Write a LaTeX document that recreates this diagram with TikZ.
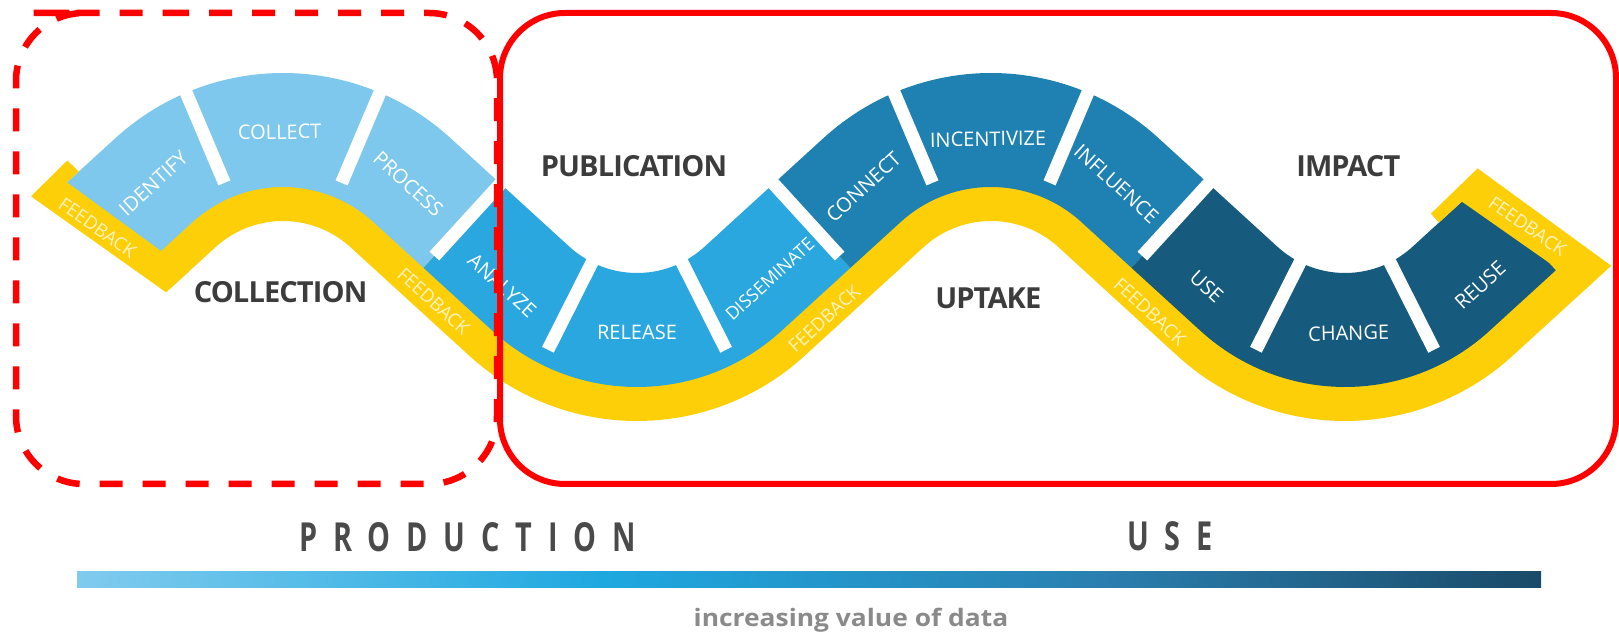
\documentclass[tikz,border=0pt]{standalone}
\usepackage{fontspec}
\setmainfont{Open Sans}
\newfontfamily\blkfont{Open Sans}
\newfontfamily\bigfont{Open Sans}[LetterSpace=-3]
\newfontfamily\prodfont{Open Sans}[LetterSpace=55]
\definecolor{cA}{HTML}{7DC8EC}
\definecolor{cB}{HTML}{2AA7DF}
\definecolor{cC}{HTML}{1F80B2}
\definecolor{cD}{HTML}{165A7D}
\definecolor{yel}{HTML}{FCCF08}
\definecolor{fbtext}{HTML}{FFF3C4}
\definecolor{darktext}{HTML}{3C3C3C}
\definecolor{prodgray}{HTML}{4A4A4A}
\definecolor{valgray}{HTML}{8A8A8A}
\definecolor{redline}{HTML}{FF0000}
\definecolor{barA}{HTML}{80CBEE}
\definecolor{barB}{HTML}{1EA8E0}
\definecolor{barC}{HTML}{2A7FB0}
\definecolor{barD}{HTML}{1A4A68}
\pgfdeclarehorizontalshading{valbar}{100bp}{color(0bp)=(barA); color(25bp)=(barA); color(43bp)=(barB); color(60bp)=(barC); color(75bp)=(barD); color(100bp)=(barD)}
% wave geometry (1 unit = 1 px, y up)
\def\R{174}
\def\HY{313}
\def\VY{461}
\def\Dx{354}
\def\Ha{283}
\pgfmathsetmacro\Vb{\Ha+\Dx}
\pgfmathsetmacro\Hc{\Ha+2*\Dx}
\pgfmathsetmacro\Vd{\Ha+3*\Dx}
\pgfmathsetmacro\Vz{\Ha-\Dx}
\pgfmathsetmacro\dd{100*veclen(\Dx/100,(\VY-\HY)/100)}
\pgfmathsetmacro\tauA{atan2((\VY-\HY),\Dx)+acos(2*\R/\dd)}
\pgfmathsetmacro\Ls{100*sqrt((\dd/100)^2-4*(\R/100)^2)}
\pgfmathsetmacro\La{\R*((180-2*\tauA)/180)*pi}
\pgfmathsetmacro\kd{(180/pi)/\R}
\pgfmathsetmacro\Sb{\La}
\pgfmathsetmacro\Sc{\La+\Ls}
\pgfmathsetmacro\Sd{2*\La+\Ls}
\pgfmathsetmacro\Se{2*\La+2*\Ls}
\pgfmathsetmacro\Sf{3*\La+2*\Ls}
\pgfmathsetmacro\Sg{3*\La+3*\Ls}
\pgfmathsetmacro\Sh{4*\La+3*\Ls}
\pgfmathsetmacro\phiU{90-\tauA}
\pgfmathsetmacro\Txa{\Ha-\R*cos(\tauA)}
\pgfmathsetmacro\Tya{\HY+\R*sin(\tauA)}
\pgfmathsetmacro\Txh{\Vd+\R*cos(\tauA)}
\pgfmathsetmacro\Tyh{\VY-\R*sin(\tauA)}
% gaps between blocks
\pgfmathsetmacro\gA{\La/2-69.8}
\pgfmathsetmacro\gB{\La/2+69.8}
\pgfmathsetmacro\gC{\Sb+68}
\pgfmathsetmacro\gD{\Sc+\La/2-81.2}
\pgfmathsetmacro\gE{\Sc+\La/2+81.2}
\pgfmathsetmacro\gF{\Se-68}
\pgfmathsetmacro\gG{\Se+\La/2-69.8}
\pgfmathsetmacro\gH{\Se+\La/2+69.8}
\pgfmathsetmacro\gI{\Sf+68}
\pgfmathsetmacro\gJ{\Sg+\La/2-81.2}
\pgfmathsetmacro\gK{\Sg+\La/2+81.2}
\pgfmathsetmacro\bEnd{\Sh+90}
\pgfmathsetmacro\yEnd{\Sh+105}
\tikzset{
 declare function={
  hax(\pa,\pb,\pc,\pd)=\pc+(\R-(\pb))*cos(180-\tauA-((\pa)-(\pd))*\kd);
  hay(\pa,\pb,\pc,\pd)=\HY+(\R-(\pb))*sin(180-\tauA-((\pa)-(\pd))*\kd);
  vax(\pa,\pb,\pc,\pd)=\pc+(\R+(\pb))*cos(180+\tauA+((\pa)-(\pd))*\kd);
  vay(\pa,\pb,\pc,\pd)=\VY+(\R+(\pb))*sin(180+\tauA+((\pa)-(\pd))*\kd);
  ldx(\pa,\pb,\pc,\pd)=\pc+\R*cos(\tauA)+((\pa)-(\pd))*sin(\tauA)-(\pb)*cos(\tauA);
  ldy(\pa,\pb,\pc,\pd)=\HY+\R*sin(\tauA)-((\pa)-(\pd))*cos(\tauA)-(\pb)*sin(\tauA);
  lux(\pa,\pb,\pc,\pd)=\pc+\R*cos(\tauA)+((\pa)-(\pd))*sin(\tauA)+(\pb)*cos(\tauA);
  luy(\pa,\pb,\pc,\pd)=\VY-\R*sin(\tauA)+((\pa)-(\pd))*cos(\tauA)-(\pb)*sin(\tauA);
  wx(\sa,\na)=(\sa<\Sb)?((\sa<0)?lux(\sa,\na,\Vz,-\Ls):hax(\sa,\na,\Ha,0)):((\sa<\Sc)?ldx(\sa,\na,\Ha,\Sb):((\sa<\Sd)?vax(\sa,\na,\Vb,\Sc):((\sa<\Se)?lux(\sa,\na,\Vb,\Sd):((\sa<\Sf)?hax(\sa,\na,\Hc,\Se):((\sa<\Sg)?ldx(\sa,\na,\Hc,\Sf):((\sa<\Sh)?vax(\sa,\na,\Vd,\Sg):lux(\sa,\na,\Vd,\Sh)))))));
  wy(\sa,\na)=(\sa<\Sb)?((\sa<0)?luy(\sa,\na,\Vz,-\Ls):hay(\sa,\na,\Ha,0)):((\sa<\Sc)?ldy(\sa,\na,\Ha,\Sb):((\sa<\Sd)?vay(\sa,\na,\Vb,\Sc):((\sa<\Se)?luy(\sa,\na,\Vb,\Sd):((\sa<\Sf)?hay(\sa,\na,\Hc,\Se):((\sa<\Sg)?ldy(\sa,\na,\Hc,\Sf):((\sa<\Sh)?vay(\sa,\na,\Vd,\Sg):luy(\sa,\na,\Vd,\Sh)))))));
  wt(\sa)=(\sa<\Sb)?((\sa<0)?(90-\tauA):(90-\tauA-(\sa)*\kd)):((\sa<\Sc)?(\tauA-90):((\sa<\Sd)?(\tauA-90+((\sa)-\Sc)*\kd):((\sa<\Se)?(90-\tauA):((\sa<\Sf)?(90-\tauA-((\sa)-\Se)*\kd):((\sa<\Sg)?(\tauA-90):((\sa<\Sh)?(\tauA-90+((\sa)-\Sg)*\kd):(90-\tauA)))))));
 },
 blk/.style={font=\blkfont\fontsize{20}{22}\selectfont, text=white, inner sep=0pt},
 blksm/.style={font=\blkfont\fontsize{18}{20}\selectfont, text=white, inner sep=0pt},
 fb/.style={font=\blkfont\fontsize{18.5}{20}\selectfont, text=fbtext, inner sep=0pt},
 big/.style={font=\bigfont\bfseries\fontsize{29}{32}\selectfont, text=darktext, inner sep=0pt},
 prod/.style={font=\prodfont\bfseries\fontsize{40}{44}\selectfont, text=prodgray, inner sep=0pt, xscale=0.72},
 gapline/.style={white, line width=13pt},
}
\newcommand\wband[6]{\fill[#6] plot[domain=#1:#2,samples=#5,variable=\x] ({wx(\x,#3)},{wy(\x,#3)}) -- plot[domain=#2:#1,samples=#5,variable=\x] ({wx(\x,#4)},{wy(\x,#4)}) -- cycle;}
\newcommand\wgap[1]{\draw[gapline] ({wx(#1,-80)},{wy(#1,-80)}) -- ({wx(#1,24)},{wy(#1,24)});}
\newcommand\wlab[5]{\node[#4,rotate={wt(#1)}] (#3) at ({wx(#1,#2)},{wy(#1,#2)}) {#5};}
\begin{document}
\begin{tikzpicture}[x=1pt,y=1pt]
\useasboundingbox (0,0) rectangle (1619,634);
\fill[white] (0,0) rectangle (1619,634);
% yellow feedback strip
\wband{-60}{\yEnd}{24}{74}{300}{fill=yel}
% block bands
\wband{-71}{\gC}{-74}{40}{80}{fill=cA}
\wband{\gC}{\gF}{-74}{40}{80}{fill=cB}
\wband{\gF}{\gI}{-74}{40}{80}{fill=cC}
\wband{\gI}{\bEnd}{-74}{40}{80}{fill=cD}
% gaps
\foreach \g in {\gA,\gB,\gC,\gD,\gE,\gF,\gG,\gH,\gI,\gJ,\gK}{\wgap{\g}}
% end caps
\begin{scope}[shift={(\Txa,\Tya)},rotate=\phiU]
 \fill[yel] (-102,88) -- (-51,90) -- (-50,74) -- (-66,74) -- (-36,-74) -- (-67,-74) -- cycle;
 \node[fb,rotate=-35.5] (fbL) at (-74,20) {FEEDBACK};
\end{scope}
\begin{scope}[shift={(\Txh,\Tyh)},rotate=\phiU]
 \fill[yel] (36,86) -- (101,88) -- (134,-74) -- (100,-74) -- (67,74) -- (36,74) -- cycle;
 \node[fb,rotate=-34.8] (fbR) at (99,11.5) {FEEDBACK};
\end{scope}
% block labels
\wlab{-3}{-15}{identify}{blk}{IDENTIFY}
\wlab{\La/2-3}{-15}{collect}{blk}{COLLECT}
\wlab{\Sb}{-12}{process}{blk}{PROCESS}
\wlab{\Sb+138}{0}{analyze}{blk}{ANALYZE}
\wlab{\Sc+\La/2}{-15}{release}{blk}{RELEASE}
\wlab{\Sd+26.5}{-6}{disseminate}{blksm}{DISSEMINATE}
\wlab{\Sd+158}{-11}{connect}{blk}{CONNECT}
\wlab{\Se+126}{-8}{incentivize}{blk}{INCENTIVIZE}
\wlab{\Sf}{-12}{influence}{blk}{INFLUENCE}
\wlab{\Sf+136}{3}{use}{blk}{USE}
\wlab{\Sg+\La/2+4}{-14}{change}{blk}{CHANGE}
\wlab{\Sh+24}{0}{reuse}{blk}{REUSE}
\wlab{\Sb+98}{58}{fbA}{fb}{FEEDBACK}
\wlab{\Sd+40}{60}{fbB}{fb}{FEEDBACK}
\wlab{\Sf+111}{60}{fbC}{fb}{FEEDBACK}
% stage labels
\node[big] (collection) at (280.6,342.3) {COLLECTION};
\node[big] (publication) at (634,468) {PUBLICATION};
\node[big] (uptake) at (988.3,335.7) {UPTAKE};
\node[big] (impact) at (1348.3,468.3) {IMPACT};
% bottom
\node[prod] (production) at (467.5,97.3) {PRODUCTION};
\node[prod] (usage) at (1170,97.3) {USE};
\shade[shading=valbar] (77,46.7) rectangle (1541,62.3);
\node[font=\bfseries\fontsize{24}{26}\selectfont, text=valgray, inner sep=0pt, xscale=1.1] (value) at (851,14) {increasing value of data};
% red frames
\draw[redline, line width=6.5pt, dash pattern=on 23pt off 20pt, rounded corners=68pt] (98,621) -- (497,621) -- (497,150) -- (16,150) -- (16,621) -- cycle;
\draw[redline, line width=6pt, rounded corners=65pt] (500,150) rectangle (1616,621);
\end{tikzpicture}
\end{document}
